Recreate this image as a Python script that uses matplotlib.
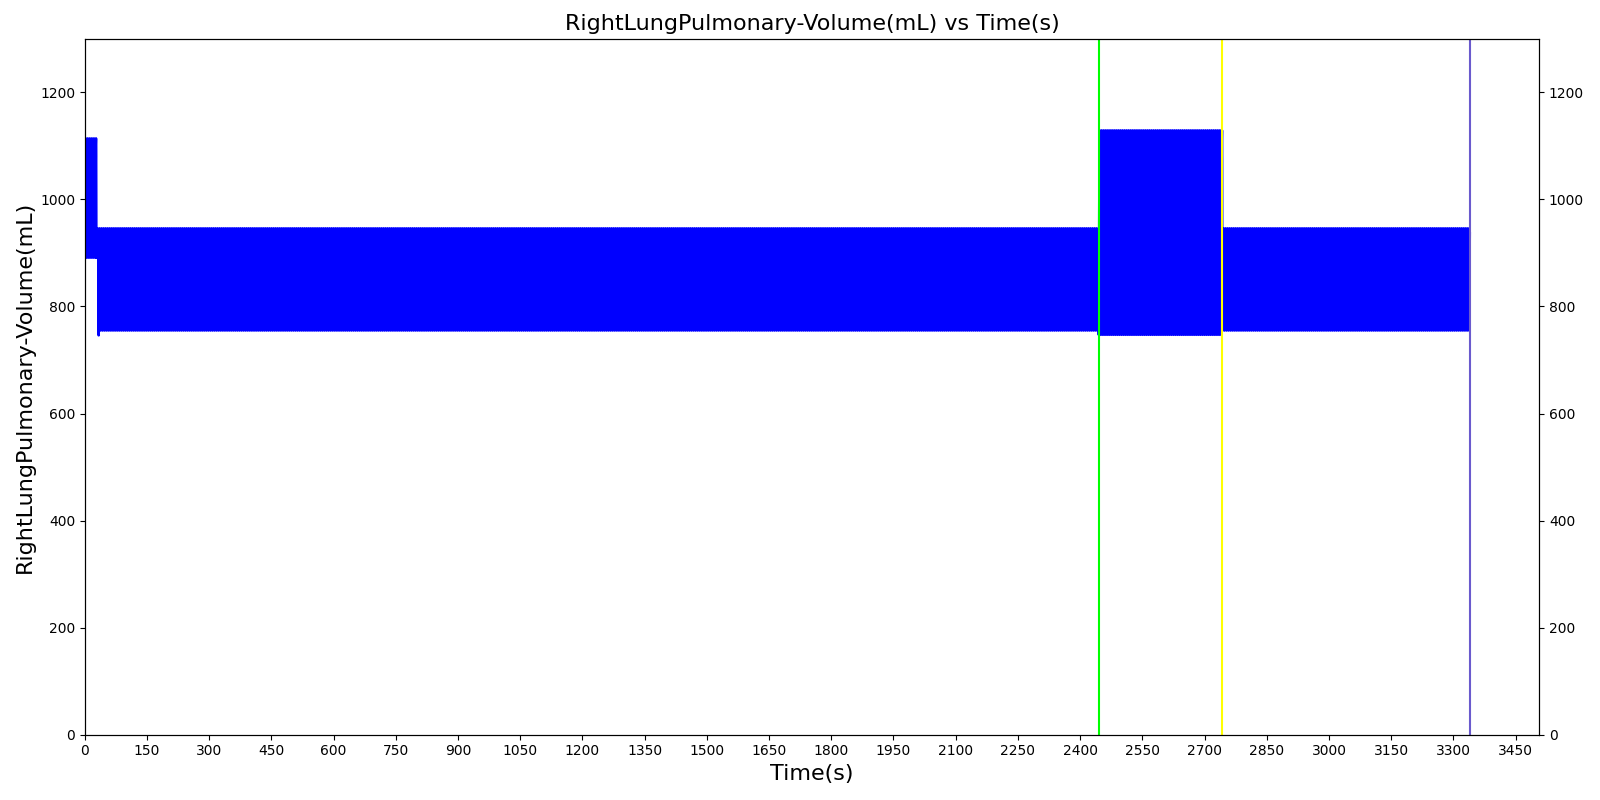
import numpy as np
import matplotlib
matplotlib.use('Agg')
import matplotlib.pyplot as plt

# breathing segments (seconds, mL)
seg_start = [0, 28, 33, 2445, 2743]
seg_end = [28, 33, 2445, 2743, 3340]
seg_min = [891, 891, 755, 747, 755]
seg_max = [1114, 946, 946, 1129, 946]
breath_period = 5.0
# one breath, as fraction of the band (inhale then exhale)
breath_shape = [0.0, 0.25, 0.55, 0.8, 0.95, 1.0, 0.85, 0.6, 0.38, 0.2, 0.08, 0.02]
# the short dip right after the first segment
dip_time = [33.5]
dip_value = [746]

event_time = [2445, 2743, 3341]
event_color = ['lime', 'yellow', 'slateblue']

t_all = []
v_all = []
dt = breath_period / len(breath_shape)
for s, e, lo, hi in zip(seg_start, seg_end, seg_min, seg_max):
    n = int(round((e - s) / dt))
    shape = np.tile(breath_shape, n // len(breath_shape) + 1)[:n]
    t_all.append(s + np.arange(n) * dt)
    v_all.append(lo + shape * (hi - lo))
t = np.concatenate(t_all + [np.array(dip_time)])
v = np.concatenate(v_all + [np.array(dip_value)])
order = np.argsort(t, kind='stable')
t = t[order]
v = v[order]

fig, ax = plt.subplots(figsize=(16, 8), dpi=100)
fig.subplots_adjust(left=0.053, right=0.962, top=0.9515, bottom=0.0816)
ax.plot(t, v, color='b', linewidth=1.8)
for x, c in zip(event_time, event_color):
    ax.axvline(x, color=c, linewidth=1.5)

xmax = max(seg_end) * 1.05
ax.set_xlim(0, xmax)
ax.set_ylim(0, 1300)
ax.set_xticks(np.arange(0, xmax, 150))
ax.set_title('RightLungPulmonary-Volume(mL) vs Time(s)', fontsize=16)
ax.set_xlabel('Time(s)', fontsize=16)
ax.set_ylabel('RightLungPulmonary-Volume(mL)', fontsize=16)

ax2 = ax.twinx()
ax2.set_ylim(ax.get_ylim())

fig.savefig('out.png')
